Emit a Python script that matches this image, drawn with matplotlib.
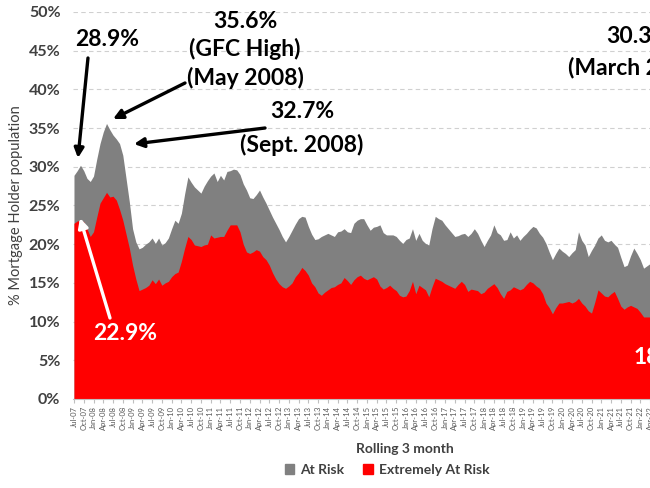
import numpy as np
import pandas as pd
import matplotlib
matplotlib.use("Agg")
import matplotlib.pyplot as plt
from matplotlib.patches import Patch

plt.rcParams['font.family'] = ['Lato', 'DejaVu Sans']

# rolling 3 month, monthly from Jul-07 (share of mortgage holders)
total_at_risk = [
    28.9, 29.5, 30.2, 29.5, 28.5, 28.1, 28.8, 31.0, 33.0, 34.5,
    35.6, 34.8, 34.1, 33.6, 33.0, 31.5, 28.5, 25.5, 22.0, 20.3,
    19.4, 19.6, 20.0, 20.3, 20.8, 20.1, 20.8, 19.9, 20.2, 20.8,
    22.0, 23.1, 22.7, 24.0, 26.5, 28.7, 28.0, 27.4, 27.0, 26.6,
    27.5, 28.2, 28.8, 29.2, 28.1, 28.9, 28.3, 29.4, 29.5, 29.7,
    29.6, 29.0, 27.8, 27.0, 26.0, 25.9, 26.4, 27.0, 26.1, 25.3,
    24.4, 23.5, 22.7, 21.9, 21.0, 20.3, 21.0, 21.8, 22.6, 23.3,
    23.6, 23.5, 22.3, 21.3, 20.6, 20.7, 21.0, 21.2, 21.4, 21.2,
    21.0, 21.6, 21.7, 22.0, 21.6, 21.5, 22.7, 23.1, 23.3, 23.3,
    22.5, 21.8, 22.2, 22.3, 22.5, 21.5, 21.2, 21.2, 21.2, 21.0,
    20.5, 20.1, 20.6, 20.8, 22.0, 20.5, 21.4, 20.5, 20.1, 19.9,
    22.0, 23.6, 23.3, 23.1, 22.5, 22.0, 21.5, 21.0, 21.1, 21.3,
    21.4, 21.0, 21.4, 22.0, 21.4, 20.5, 19.7, 20.5, 21.2, 22.5,
    21.5, 21.2, 20.5, 20.6, 21.6, 20.8, 21.2, 20.5, 21.0, 21.4,
    21.9, 22.3, 22.1, 21.4, 20.9, 20.1, 19.0, 18.0, 18.8, 19.5,
    19.1, 18.8, 18.4, 18.9, 19.3, 21.6, 20.5, 19.9, 18.4, 19.2,
    19.9, 20.8, 21.2, 20.5, 20.3, 20.5, 20.0, 19.6, 18.3, 17.1,
    17.3, 18.5, 19.5, 18.8, 18.0, 16.9, 17.2, 17.5,
]
extremely_at_risk = [
    22.7, 23.0, 23.1, 22.9, 22.0, 21.0, 21.6, 23.5, 25.3, 26.0,
    26.7, 26.1, 26.2, 25.7, 24.5, 23.1, 21.3, 19.5, 17.3, 15.5,
    14.0, 14.2, 14.4, 14.7, 15.4, 14.9, 15.5, 14.7, 15.0, 15.2,
    15.8, 16.2, 16.4, 17.8, 19.5, 21.0, 20.6, 19.9, 19.8, 19.7,
    19.9, 20.0, 21.2, 20.8, 20.9, 21.0, 21.0, 21.8, 22.5, 22.5,
    22.5, 21.6, 20.0, 19.0, 18.8, 19.0, 19.3, 19.1, 18.4, 18.0,
    17.3, 16.3, 15.5, 14.9, 14.5, 14.3, 14.6, 15.0, 15.8, 16.3,
    17.0, 16.6, 16.0, 15.0, 14.5, 13.7, 13.4, 13.8, 14.1, 14.4,
    14.5, 14.8, 15.0, 15.7, 15.3, 14.8, 15.4, 15.8, 16.0, 15.6,
    15.4, 15.6, 15.8, 15.5, 14.6, 14.2, 14.4, 14.7, 14.3, 14.0,
    13.4, 13.2, 13.3, 14.0, 15.2, 13.6, 14.7, 14.4, 14.1, 13.2,
    14.5, 15.6, 15.4, 15.2, 14.9, 14.7, 14.5, 14.3, 14.8, 15.2,
    14.8, 13.9, 14.2, 14.1, 14.0, 13.6, 13.8, 14.3, 14.6, 14.9,
    14.4, 13.6, 13.0, 13.9, 14.1, 14.5, 14.3, 14.1, 14.3, 14.8,
    15.2, 15.0, 14.6, 14.3, 13.6, 12.4, 11.8, 11.0, 11.8, 12.4,
    12.4, 12.5, 12.6, 12.4, 12.6, 13.0, 12.4, 12.0, 11.4, 11.1,
    12.5, 14.1, 13.7, 13.3, 13.2, 13.6, 13.9, 13.0, 12.0, 11.6,
    11.9, 12.1, 11.9, 11.7, 11.2, 10.6, 10.6, 10.6,
]
months = pd.date_range("2007-07-01", periods=len(total_at_risk), freq="MS")
tick_labels = [d.strftime("%b-%y") for d in months[::3]]

GRAY = "#808080"
RED = "#ff0000"
TXT = "#404040"

x = np.arange(len(months))
total = np.array(total_at_risk) / 100
extreme = np.array(extremely_at_risk) / 100

fig = plt.figure(figsize=(6.5, 4.88), dpi=100)
# chart is cropped on the right, so the axes run past the figure edge
ax = fig.add_axes([73 / 650, 89 / 488, 664 / 650, 387 / 488])

ax.fill_between(x, total, color=GRAY, lw=0)
ax.fill_between(x, extreme, color=RED, lw=0)

ax.set_xlim(-0.3, 203.7)
ax.set_ylim(0, 0.5)
ax.set_axisbelow(True)
ax.yaxis.grid(True, color="#d0d0d0", lw=0.8, ls=(0, (4, 3)))

yt = np.arange(0, 0.51, 0.05)
ax.set_yticks(yt)
ax.set_yticklabels([f"{v * 100:.0f}%" for v in yt], fontsize=11.5,
                   fontweight="bold", color=TXT)
ax.tick_params(axis="y", length=0, pad=9)

ax.set_xticks(x[::3])
ax.set_xticklabels(tick_labels, rotation=90, fontsize=5.5, color="#595959")
ax.tick_params(axis="x", length=3, color="#bfbfbf", pad=2)

for s in ["top", "right", "left"]:
    ax.spines[s].set_visible(False)
ax.spines["bottom"].set_color("#bfbfbf")

ax.set_ylabel("% Mortgage Holder population", fontsize=10.5, color=TXT)
ax.yaxis.set_label_coords(-50 / 664, 0.5)
ax.set_xlabel("Rolling 3 month", fontsize=10, fontweight="bold", color=TXT)
ax.xaxis.set_label_coords(0.5, -44 / 387)

fig.legend(handles=[Patch(color=GRAY, label="At Risk"),
                    Patch(color=RED, label="Extremely At Risk")],
           loc="center", bbox_to_anchor=(387 / 650, 18 / 488), ncol=2,
           frameon=False, prop={"size": 10, "weight": "bold"},
           handlelength=0.7, handleheight=0.7, handletextpad=0.4,
           columnspacing=1.4, labelcolor=TXT)


def pt(px, py):
    # pixel position in the 650x488 picture -> data coords
    return ((px - 74) / 3.254, (399 - py) / 774)


def arrow(start, tip, color="black"):
    ax.annotate("", xy=pt(*tip), xytext=pt(*start), annotation_clip=False,
                arrowprops=dict(arrowstyle="-|>", color=color, lw=2.4,
                                mutation_scale=14, shrinkA=0, shrinkB=0))


def label(px, py, s, color="black", ha="center"):
    ax.text(*pt(px, py), s, fontsize=16.5, fontweight="bold", color=color,
            ha=ha, va="center", clip_on=False, linespacing=1.35)


label(107, 40, "28.9%")
arrow((88, 58), (78, 158))
label(245, 50, "35.6%\n(GFC High)\n(May 2008)")
arrow((185, 83), (113, 119))
label(302, 112, "32.7%")
label(302, 145, "(Sept. 2008)")
arrow((265, 128), (134, 144))
label(125, 333, "22.9%", color="white")
arrow((110, 318), (80, 218), color="white")
# the reference picture is cut at its right edge, these run off it too
label(606, 37, "30.3%", ha="left")
label(568, 68, "(March 2022)", ha="left")
label(633, 358, "18.0%", color="white", ha="left")

fig.savefig("out.png", dpi=100)
